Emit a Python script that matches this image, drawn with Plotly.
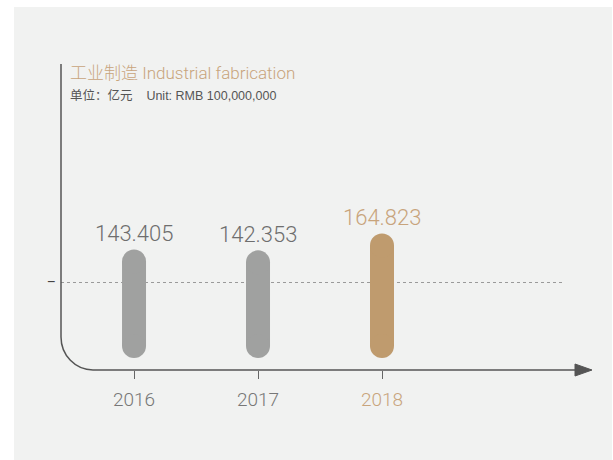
import plotly.graph_objects as go

# ---- data ----
years = ["2016", "2017", "2018"]
values = [143.405, 142.353, 164.823]
value_labels = ["143.405", "142.353", "164.823"]
bar_colors = ["#a0a1a0", "#a0a1a0", "#bf9b6e"]
label_colors = ["#6e6e6e", "#6e6e6e", "#c8a47c"]
tick_colors = ["#777777", "#777777", "#c8a47c"]
ref_value = 100

title_text = "工业制造 Industrial fabrication"
subtitle_text = "单位：亿元\u00a0\u00a0\u00a0\u00a0Unit: RMB 100,000,000"

# ---- layout geometry ----
W, H = 613, 460
ML, MR, MT, MB = 61, 48, 64, 90
plot_w = W - ML - MR
plot_h = H - MT - MB
y_range = [-15.9, 388.9]
x_range = [-0.589, 3.476]
ppu_y = plot_h / (y_range[1] - y_range[0])
ppu_x = plot_w / (x_range[1] - x_range[0])
bar_px = 24
r_units = (bar_px / 2) / ppu_y

FONT = "Roboto, 'Noto Sans CJK SC', sans-serif"
FONT2 = "'Liberation Sans', 'Noto Sans CJK SC', sans-serif"

fig = go.Figure()

# straight body of each bar (between the two cap centres)
fig.add_trace(go.Bar(
    x=years,
    y=[v - 2 * r_units for v in values],
    base=[r_units] * len(values),
    width=bar_px / ppu_x,
    marker=dict(color=bar_colors, line=dict(width=0)),
    hoverinfo="skip",
    showlegend=False,
))
# rounded caps (bottom and top)
fig.add_trace(go.Scatter(
    x=years + years,
    y=[r_units] * len(values) + [v - r_units for v in values],
    mode="markers",
    marker=dict(size=bar_px, color=bar_colors + bar_colors, line=dict(width=0)),
    hoverinfo="skip",
    showlegend=False,
))

annotations = []
for i, (v, lab, c) in enumerate(zip(values, value_labels, label_colors)):
    annotations.append(dict(
        x=i, y=v, xref="x", yref="y", text=lab, showarrow=False,
        yanchor="middle", yshift=16,
        font=dict(family=FONT, size=22, color=c, weight=300),
    ))

annotations.append(dict(
    x=(68 - ML) / plot_w, y=(H - MB - 73) / plot_h, xref="paper", yref="paper",
    text=title_text, showarrow=False, xanchor="left", yanchor="middle",
    font=dict(family=FONT, size=17, color="#c8a47c", weight=300),
))
annotations.append(dict(
    x=(68 - ML) / plot_w, y=(H - MB - 96) / plot_h, xref="paper", yref="paper",
    text=subtitle_text, showarrow=False, xanchor="left", yanchor="middle",
    font=dict(family=FONT2, size=12.5, color="#555555"),
))

# axis path with rounded corner and arrow
rxp = 32 / plot_w
ryp = 33 / plot_h
k = 0.5523
xend = (575 - ML) / plot_w
xtip = (592 - ML) / plot_w
ah = 6 / plot_h
axis_path = (
    f"M 0,1 L 0,{ryp} C 0,{ryp*(1-k)} {rxp*(1-k)},0 {rxp},0 L {xend},0"
)
arrow_path = f"M {xend},{ah} L {xtip},0 L {xend},{-ah} Z"

shapes = [
    dict(type="rect", xref="paper", yref="paper",
         x0=(14 - ML) / plot_w, x1=(612 - ML) / plot_w,
         y0=(H - MB - 460) / plot_h, y1=(H - MB - 7) / plot_h,
         fillcolor="#f1f2f1", line=dict(width=0), layer="below"),
    dict(type="path", xref="paper", yref="paper", path=axis_path,
         line=dict(color="#555555", width=1.5)),
    dict(type="path", xref="paper", yref="paper", path=arrow_path,
         fillcolor="#555555", line=dict(color="#555555", width=1)),
]

ticktext = [f"<span style='color:{c}'>{y}</span>" for y, c in zip(years, tick_colors)]

fig.update_layout(
    width=W, height=H,
    margin=dict(l=ML, r=MR, t=MT, b=MB),
    paper_bgcolor="#ffffff",
    plot_bgcolor="rgba(0,0,0,0)",
    barmode="overlay",
    showlegend=False,
    font=dict(family=FONT),
    shapes=shapes,
    annotations=annotations,
    xaxis=dict(
        range=x_range, type="category",
        tickmode="array", tickvals=years, ticktext=ticktext,
        ticks="outside", ticklen=8, tickwidth=1, tickcolor="#666666",
        ticklabelstandoff=4,
        showline=False, showgrid=False, zeroline=False,
        tickfont=dict(family=FONT, size=19, color="#777777", weight=300),
        fixedrange=True,
    ),
    yaxis=dict(
        range=y_range,
        tickmode="array", tickvals=[ref_value], ticktext=["–"],
        ticks="", showline=False, zeroline=False,
        showgrid=True, gridcolor="#9a9a9a", gridwidth=1, griddash="dot",
        tickfont=dict(family=FONT, size=14, color="#444444"),
        ticklabelstandoff=4,
        fixedrange=True,
    ),
)

fig.write_html("out.html")
